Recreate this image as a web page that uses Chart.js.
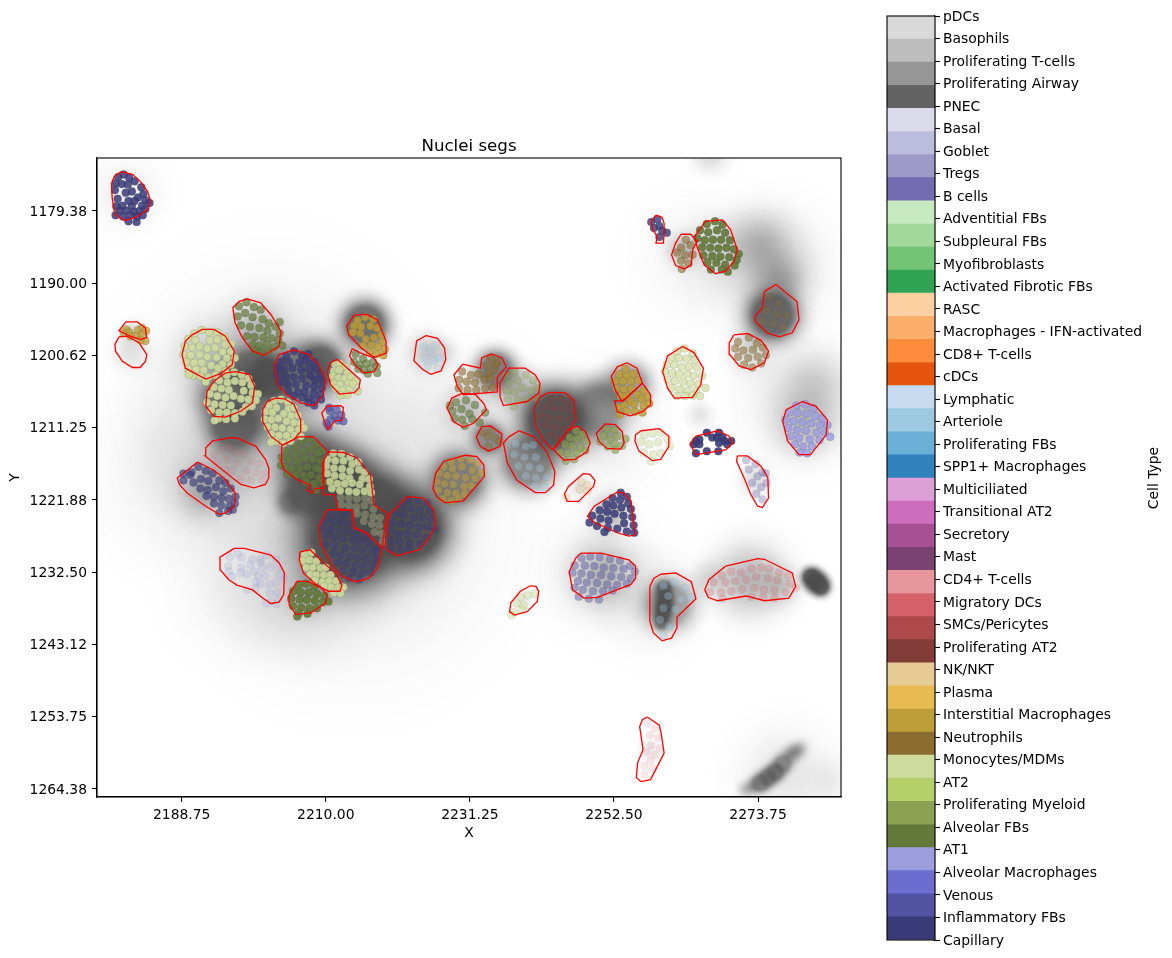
<!DOCTYPE html>
<html>
<head>
<meta charset="utf-8">
<title>Nuclei segs</title>
<script src="https://cdn.jsdelivr.net/npm/chart.js@4/dist/chart.umd.js"></script>
<style>
    body { margin: 0; background: #fff; }
    #main-chart { position: absolute; left: 0; top: 0; }
    #colorbar-chart { position: absolute; left: 880px; top: 0; }
</style>
</head>
<body>
<canvas id="main-chart" width="938" height="842"></canvas>
<canvas id="colorbar-chart" width="292" height="958"></canvas>
<script>
// axes
const xTicks = [2188.75, 2210.00, 2231.25, 2252.50, 2273.75];
const yTicks = [1179.38, 1190.00, 1200.62, 1211.25, 1221.88, 1232.50, 1243.12, 1253.75, 1264.38];
const xRange = [2176.26, 2285.99];
const yRange = [1171.59, 1265.56];

// colorbar, bottom to top
const cellTypes = ['Capillary', 'Inflammatory FBs', 'Venous', 'Alveolar Macrophages', 'AT1', 'Alveolar FBs', 'Proliferating Myeloid', 'AT2', 'Monocytes/MDMs', 'Neutrophils', 'Interstitial Macrophages', 'Plasma', 'NK/NKT', 'Proliferating AT2', 'SMCs/Pericytes', 'Migratory DCs', 'CD4+ T-cells', 'Mast', 'Secretory', 'Transitional AT2', 'Multiciliated', 'SPP1+ Macrophages', 'Proliferating FBs', 'Arteriole', 'Lymphatic', 'cDCs', 'CD8+ T-cells', 'Macrophages - IFN-activated', 'RASC', 'Activated Fibrotic FBs', 'Myofibroblasts', 'Subpleural FBs', 'Adventitial FBs', 'B cells', 'Tregs', 'Goblet', 'Basal', 'PNEC', 'Proliferating Airway', 'Proliferating T-cells', 'Basophils', 'pDCs'];
const typeColors = ['#393b79', '#5254a3', '#6b6ecf', '#9c9ede', '#637939', '#8ca252', '#b5cf6b', '#cedb9c', '#8c6d31', '#bd9e39', '#e7ba52', '#e7cb94', '#843c39', '#ad494a', '#d6616b', '#e7969c', '#7b4173', '#a55194', '#ce6dbd', '#de9ed6', '#3182bd', '#6baed6', '#9ecae1', '#c6dbef', '#e6550d', '#fd8d3c', '#fdae6b', '#fdd0a2', '#31a354', '#74c476', '#a1d99b', '#c7e9c0', '#756bb1', '#9e9ac8', '#bcbddc', '#dadaeb', '#636363', '#969696', '#bdbdbd', '#d9d9d9'];

// all coordinates below are x,y pairs counted from this corner, in axis units
const X0 = 2176, Y0 = 1171;

// tissue signal: x, y, spread, density
const tissueSignal = [
    [25.8,36.2,10.3,.18],[37.6,53.8,11.8,.22],[14,46.5,7.4,.13],[4.4,6,3.2,.1],[22.9,64.1,5.9,.08],[30.2,65.6,5.1,.13],[55.3,39.1,5.9,.1],[74.5,40.6,5.1,.12],[89.2,15.6,5.1,.08],[99.6,17,5.1,.22],[104,36.2,5.1,.16],[106.2,34,3.2,.2],[81.9,65.6,4.4,.1],[74.5,61.2,5.1,.1],[101.8,91.3,4.4,.14],
    [37.6,56.8,4.7,.95],[46.5,55,3.7,.95],[41.3,52.4,3.7,.9],[36.9,50.1,3.2,.85],[31.7,49.4,2.6,.75],[28.8,51.2,1.2,.5],[22.9,32.1,2.4,.75],[25.5,32.9,2.1,.9],[20.6,39.9,2.5,.8],[17.7,36.2,1.8,.4],[33.2,31,2.1,.8],[39.8,25.1,2.2,.8],[24.6,38.4,2.1,.4],
    [99.9,23.7,2.4,.85],[98.1,13.4,3.2,.35],[101,18.5,2.4,.4],[67.8,39.1,3.2,.95],[74,37.6,2.6,.55],[74.5,35,1.5,.3],[58,41.8,1.5,.6],[63.9,45.3,2.6,.65],[59,31.8,1.8,.7],[61.9,34.4,2.2,.35],[54.6,37.6,1.9,.3],[53.5,47.9,2.6,.7],[49.1,29.1,1.9,.3],[51.6,29.1,1.2,.1],
    [105.6,62.2,.9,.9],[106.3,62.9,1,.95],[107,63.6,.9,.9],[83.9,63.9,.8,.7],[84,65.2,.8,.8],[83.9,66.4,.85,.85],[83.7,67.6,.8,.8],[83.5,68.9,.7,.65],[84.5,66.3,2.3,.5],[100.3,90.9,.9,.65],[99.2,91.7,.9,.6],[98.1,92.5,.9,.6],[97,93,.8,.4],[95.9,93.5,.8,.3],[101.4,89.7,.9,.55],[102.5,88.4,.9,.45],[103.2,87.9,.8,.4],[104,87.4,.8,.3],[108.4,92.1,2.2,.08],
    [74.8,61.9,3.2,.36],[96.6,62.6,3.6,.4],[90.7,62.6,1.8,.2],[101,63.4,1.8,.25],[104.7,39.9,2.9,.3],[91.4,13.4,2.6,.15],[86.7,14.1,1.5,.35],[96.3,29.1,2.1,.2],[78.6,34,2.1,.5],[76,41.3,1.2,.3],[76,52.8,1.8,.4],[71.5,49.1,1,.15],[63.1,65.6,1,.1],[97.3,47.9,1.5,.2],[81.9,87.6,1.2,.1],
    [20.6,45.4,3.2,.25],[16.2,49.4,2.6,.4],[5.2,29.1,1.8,.15],[5.6,26.3,1.2,.2],[27.6,39.1,2.6,.35],[16.7,29.6,3.2,.25],[30.2,32.5,2.9,.6],[24,25.9,2.9,.35],[19.9,35.4,2.9,.5],[31.7,45,2.9,.7],[36.1,47.9,3.2,.7],[32.9,61.2,1.8,.2],[31.3,65.1,1.8,.3],[90.7,.1,1.8,.2],[89.2,38.4,1.3,.15]
];

// red segmentation outlines
const segOutlines = [
    [3.8,2.6,5.5,3.0,6.7,4.1,7.7,5.5,8.2,7.0,7.7,8.2,6.0,9.3,4.3,9.8,2.9,8.9,2.5,6.5,2.4,4.4,2.8,3.3],
    [4.5,24.7,6.2,24.7,7.4,25.6,7.6,27.0,6.7,27.3,5.2,26.8,3.5,26.0],
    [3.5,26.9,4.7,26.8,6.5,27.8,7.6,29.5,7.4,30.5,6.6,31.4,5.5,31.4,4.0,30.5,3.0,29.0,2.9,28.0],
    [22.4,21.3,24.4,21.9,25.9,23.6,27.4,26.1,27.1,28.3,24.9,29.6,23.2,29.0,21.7,27.0,20.6,24.8,20.3,22.6,21.2,21.7],
    [15.8,25.8,17.5,25.8,19.2,26.8,20.5,29.0,20.2,31.0,18.5,32.3,16.3,33.1,13.3,31.5,12.8,29.5,13.3,27.5,14.3,26.6],
    [19.2,32.2,20.7,32.0,22.7,32.4,23.5,34.2,23.2,36.6,21.5,37.8,19.2,38.7,17.5,38.6,16.3,37.1,16.5,34.9,17.5,33.4],
    [29.3,28.8,31.5,29.5,33.0,31.0,34.0,33.4,33.5,35.6,32.3,37.0,30.3,36.6,28.3,35.4,26.9,33.9,26.4,31.0,27.1,29.5],
    [35.7,30.2,37.2,31.5,39.1,33.2,38.9,34.4,38.2,35.1,36.0,35.3,34.7,33.9,34.2,32.0,34.7,30.7],
    [38.2,23.7,40.1,23.6,41.6,24.4,42.9,27.5,42.9,29.3,41.1,29.9,39.2,28.5,37.4,26.6,37.1,25.3],
    [37.9,28.6,39.2,29.3,41.1,30.0,41.7,31.0,41.1,32.0,39.7,32.2,38.4,31.2,37.5,29.7],
    [34.2,37.1,36.2,37.0,36.6,37.3,36.4,39.1,35.3,39.3,34.3,40.5,33.8,39.3,33.4,38.1],
    [26.6,35.9,27.9,36.0,29.3,36.8,30.3,39.1,30.3,40.8,29.3,42.0,27.6,42.8,25.9,41.5,24.7,39.3,24.7,37.6,25.4,36.4],
    [20.0,41.7,21.0,41.8,23.7,43.0,25.1,44.9,25.6,46.2,25.6,47.6,25.1,48.6,23.4,49.1,21.5,48.6,20.2,47.6,16.2,44.4,16.3,43.2,17.3,42.2],
    [15.1,45.3,17.3,46.4,19.0,47.65,20.7,49.9,20.5,51.8,19.2,52.8,18.3,53.0,16.3,51.8,13.6,49.9,12.4,48.6,12.1,47.65],
    [27.5,42.9,30.0,41.6,32.2,41.6,34.4,43.8,33.6,45.2,33.7,49.1,32.4,49.2,32.0,49.9,31.2,49.4,31.8,48.7,29.8,47.9,27.8,46.4,27.4,45.0],
    [34.4,43.8,36.6,43.9,38.6,44.7,40.6,47.2,41.1,51.6,43.0,52.8,42.3,58.0,40.1,55.8,38.2,54.9,37.9,52.4,35.8,52.2,35.3,50.1,33.7,50.1,33.6,45.2],
    [34.2,52.3,37.9,52.4,38.2,55.0,40.1,55.8,42.3,58.0,41.6,60.9,40.3,62.4,38.4,62.9,36.4,62.1,34.7,60.2,33.2,57.2,33.0,54.8],
    [43.3,53.1,46.0,50.4,48.4,50.6,49.9,52.3,50.2,54.8,49.0,56.7,47.7,58.2,44.5,59.1,43.0,58.2,42.8,57.2],
    [30.2,58.5,31.7,58.2,33.4,59.9,35.4,61.6,36.4,63.4,36.1,64.3,34.4,64.3,32.7,63.4,30.7,61.6,30.1,59.7],
    [29.8,62.8,31.5,62.9,33.3,63.8,34.2,64.8,34.0,66.0,31.8,67.5,29.6,67.7,28.6,66.3,28.6,64.8],
    [20.5,58.0,22.0,58.0,25.9,59.0,27.1,60.1,27.9,61.6,27.8,64.8,27.1,65.9,25.9,66.1,24.7,65.3,23.2,64.1,20.9,63.4,19.7,62.6,18.4,61.1,18.4,59.3],
    [48.8,26.7,50.5,27.1,51.5,28.5,51.7,30.2,51.0,31.9,49.5,32.4,48.3,31.7,47.0,30.4,47.4,27.5],
    [54.2,30.9,56.8,31.5,57.0,30.0,58.4,29.4,60.0,30.0,60.6,31.3,59.3,32.8,59.3,35.0,54.3,35.4,53.4,34.2,52.9,32.5],
    [61.0,31.5,63.4,31.5,64.9,32.5,65.6,33.7,65.4,35.2,63.7,36.4,60.2,37.0,59.7,35.7,59.7,33.7],
    [54.1,35.2,56.1,35.4,57.3,36.7,57.7,37.6,55.8,39.6,54.3,40.2,52.9,39.4,51.9,37.4,52.6,35.9],
    [57.0,40.1,58.3,40.0,60.0,41.2,59.7,43.0,58.0,43.7,56.8,43.0,56.2,41.6],
    [62.5,40.7,64.7,41.6,66.6,43.8,67.8,46.7,67.6,48.7,66.4,49.8,64.9,49.8,62.2,48.0,60.8,45.5,60.2,42.5,61.0,41.6],
    [51.4,45.2,54.6,44.3,56.3,44.5,57.3,45.7,57.4,47.4,54.3,51.0,51.6,51.3,50.4,50.4,49.8,49.2,50.2,47.0],
    [66.9,35.1,69.3,35.1,70.6,36.2,70.9,39.1,69.8,40.6,67.4,43.5,65.9,41.8,64.9,39.8,64.7,37.4,65.6,35.7],
    [71.1,40.0,72.3,40.8,73.0,42.5,72.5,43.8,70.8,44.9,69.1,45.0,67.6,43.5,69.8,40.6],
    [75.2,39.7,76.7,39.8,77.7,40.8,78.0,42.5,77.5,43.4,75.5,43.3,74.3,42.3,73.9,41.1],
    [78.4,30.7,79.9,31.5,80.7,33.7,77.7,36.4,76.7,34.7,76.1,32.7,77.0,31.3],
    [80.7,33.7,81.9,35.4,81.9,36.9,80.7,37.9,78.9,38.5,77.0,37.9,76.6,36.3,77.9,36.3],
    [80.5,40.7,83.2,40.4,84.6,41.5,84.6,43.0,83.4,44.9,82.2,45.1,80.2,43.7,79.6,42.2,79.7,41.3],
    [72.0,47.0,73.0,47.1,73.7,48.0,73.5,48.9,71.3,51.1,69.6,51.1,69.2,50.0,69.8,48.9],
    [77.0,49.7,78.0,49.9,79.0,51.0,79.6,56.0,78.7,56.2,77.0,55.7,75.5,55.0,73.8,54.3,72.6,53.3,73.6,51.8],
    [71.6,58.7,74.6,58.7,78.7,59.7,79.7,60.6,79.7,62.4,79.0,63.3,74.1,65.2,72.1,65.3,70.4,64.1,69.9,61.4,70.9,59.4],
    [64.2,63.5,65.0,63.6,65.4,64.3,65.2,65.8,63.7,67.3,61.8,67.8,61.1,67.3,61.3,66.0,62.7,64.3],
    [83.4,61.8,85.6,61.6,87.9,62.9,88.6,65.4,85.8,68.1,85.8,69.7,85.0,71.2,83.6,71.6,82.3,70.4,81.8,68.7,81.8,63.6,82.4,62.4],
    [93.0,60.6,97.7,59.5,98.7,59.6,102.8,61.6,103.3,63.6,102.3,65.3,98.7,65.7,96.0,65.0,91.8,65.7,90.4,65.2,89.9,64.1,90.5,62.6],
    [81.4,82.8,83.2,84.0,83.5,85.4,83.9,88.1,81.9,92.0,80.5,92.3,79.8,91.7,80.0,89.5,80.8,87.6,80.3,84.2,80.7,83.2],
    [82.7,9.0,83.6,9.3,83.9,10.2,83.9,11.6,83.8,13.1,82.7,13.1,82.9,12.1,82.2,11.1,82.0,9.9],
    [86.4,11.8,87.8,11.8,88.8,12.8,88.1,14.1,87.9,16.3,86.9,16.9,85.6,16.4,85.0,14.8,85.6,13.1],
    [90.0,9.9,92.5,9.7,93.7,11.1,94.7,14.1,94.2,15.8,93.0,17.2,91.5,17.6,89.8,16.3,88.8,13.8,88.4,12.1],
    [98.7,20.2,100.4,19.2,103.5,21.7,103.8,24.4,102.8,26.3,100.9,26.9,99.1,26.3,97.3,24.6,97.3,23.9,98.4,22.6],
    [94.2,26.6,96.2,26.4,98.2,27.4,99.3,29.0,98.7,30.7,96.7,31.7,95.0,31.2,93.6,29.5,93.5,27.8],
    [86.6,28.3,88.3,29.2,89.7,31.5,89.3,33.9,88.1,35.8,85.4,35.9,84.4,34.4,83.7,32.0,84.4,29.7],
    [104.3,36.4,106.3,37.1,108.0,39.1,107.8,41.3,105.5,44.2,103.8,44.2,102.1,42.2,101.4,39.3,101.9,37.6],
    [88.6,41.5,91.8,40.7,93.5,41.5,94.0,42.5,93.0,43.5,88.6,44.2,87.7,42.7],
    [94.7,44.4,96.2,44.4,98.2,45.9,99.2,47.6,99.3,50.6,98.4,52.0,97.7,51.8,96.7,50.1,95.7,47.65,94.6,45.2]
];

// nuclei per segment
const capillaryTopLeft = [3.4,3.4,4.2,3.0,5.0,3.5,3.0,4.3,3.9,4.4,4.8,4.5,5.8,4.0,2.9,5.3,6.8,4.9,4.5,5.7,5.4,5.5,7.1,5.9,3.3,6.6,6.3,6.4,4.9,6.9,5.8,6.9,7.4,6.8,8.0,7.2,3.1,7.7,4.0,7.6,5.4,7.7,6.9,7.6,3.6,8.3,4.6,8.3,5.7,8.5,6.5,8.4,7.4,8.1,3.0,9.0,4.1,9.2,5.2,9.0,6.2,9.2,7.0,9.0,4.9,9.9,6.1,10.0];
const goldSmall = [4.6,25.8,4.2,26.3,5.0,26.2,6.3,25.9,6.9,25.6,6.1,26.7,6.9,26.6,7.5,26.0,6.7,27.4,7.4,27.5,5.2,26.8];
const greenTop = [21.2,22.4,22.3,21.8,23.4,22.5,24.4,22.9,21.0,23.9,22.1,23.4,23.2,24.0,24.7,24.3,25.6,24.9,21.5,25.2,22.8,25.4,24.2,25.6,25.4,26.0,26.6,25.4,27.2,26.4,22.4,26.8,23.5,26.9,24.8,27.0,26.0,27.1,27.0,27.4,23.2,28.0,24.2,28.2,25.3,28.0,26.4,28.4,24.5,29.1,25.5,29.1,23.6,29.0,27.6,28.2,27.2,24.7];
const paleLeft = [14.6,26.4,15.7,25.9,16.8,26.2,18.0,26.2,19.1,26.9,13.7,27.2,14.8,27.4,16.9,27.4,18.0,27.3,19.2,28.0,20.1,27.9,13.2,28.3,14.3,28.5,15.4,28.3,16.5,28.6,17.7,28.5,18.8,29.1,20.0,29.0,13.0,29.5,14.1,29.6,15.4,29.5,16.5,29.8,17.9,29.9,19.4,30.0,20.6,30.0,13.4,30.6,14.6,30.7,15.7,30.7,18.8,30.9,20.0,31.0,13.7,31.6,14.9,31.7,16.0,31.8,17.1,31.1,18.1,31.5,19.2,31.9,14.4,32.6,15.5,32.7,16.7,32.8,17.7,32.5,13.8,32.4,16.3,33.5];
const paleLower = [19.4,32.5,20.5,32.1,21.6,32.5,22.6,33.0,18.3,33.3,19.5,33.6,20.6,33.4,21.7,33.6,23.0,34.0,17.5,34.3,18.6,34.5,19.7,34.7,21.9,34.8,23.2,35.1,24.0,35.3,16.9,35.3,18.0,35.6,19.2,35.8,20.4,35.6,21.5,36.0,22.6,36.1,23.7,36.2,16.5,36.5,17.6,36.8,18.8,36.9,20.0,37.0,22.2,37.2,23.1,37.1,17.1,37.7,18.3,38.0,19.4,38.0,20.6,38.1,21.7,37.9,18.2,38.9,19.3,39.0,20.6,38.9,17.6,39.2];
const capillaryMiddle = [28.2,29.7,29.3,29.0,30.5,29.6,31.4,29.4,27.5,30.5,28.6,30.6,30.1,30.7,31.1,30.4,32.3,30.6,26.9,31.4,27.9,31.7,29.1,31.5,30.4,31.8,31.6,31.5,32.6,31.6,33.2,32.4,26.8,32.5,28.1,32.8,29.3,32.8,30.5,33.0,31.7,32.6,32.4,33.2,33.5,33.3,27.2,33.6,28.4,33.9,29.6,33.9,31.1,34.0,32.3,34.2,33.4,34.4,28.5,34.9,29.9,35.0,30.9,35.0,32.2,35.2,33.2,35.4,29.3,35.6,30.5,35.8,31.5,36.0,32.4,36.2,33.3,36.1,32.3,37.0,31.4,36.6];
const paleSmall = [35.4,31.0,36.1,30.8,36.9,31.3,35.2,31.9,36.0,31.8,37.2,32.2,35.0,32.7,35.9,32.9,36.8,33.0,37.7,32.8,38.4,33.4,35.2,33.7,36.1,33.9,37.4,33.7,35.5,34.5,36.5,34.8,37.5,34.5,38.7,34.9,36.2,35.5,37.2,35.4,38.0,33.8];
const goldTop = [38.7,24.5,39.8,24.0,41.0,24.3,38.2,25.3,39.2,25.4,40.6,25.3,38.0,26.2,39.1,26.4,41.6,25.6,42.2,26.6,39.9,27.2,41.1,27.0,42.3,27.7,39.5,28.2,40.7,28.1,41.7,28.4,42.7,28.7,40.5,29.1,41.5,29.4,42.5,29.6];
const greenSmall = [38.4,29.4,39.5,30.1,38.2,30.6,39.0,31.0,40.0,30.8,41.0,30.6,39.6,31.8,40.6,31.6,41.5,31.2,38.8,31.6,40.2,32.3,41.6,32.2];
const capillaryTiny = [34.6,37.8,35.6,37.6,36.3,38.4,35.3,38.6,34.7,39.0,35.8,39.2,34.4,40.1,36.6,39.3,34.5,37.3,34.1,39.6];
const paleRound = [26.4,36.3,27.4,36.1,28.4,36.5,25.6,37.0,26.7,37.3,28.5,37.5,29.3,37.3,25.1,37.9,26.1,38.0,28.9,38.5,27.8,38.2,29.9,38.4,25.0,39.0,26.0,39.1,27.0,38.9,28.2,39.3,29.3,39.5,30.3,39.6,25.4,40.1,26.5,40.2,27.6,40.3,28.8,40.5,30.0,40.6,30.8,40.3,26.0,41.2,27.1,41.4,28.2,41.4,29.4,41.4,30.3,41.5,26.6,42.2,27.7,42.5,28.8,42.2,25.9,42.4];
const faintRedLeft = [17.5,44.2,18.6,43.5,19.8,43.2,20.8,43.9,22.0,44.0,18.0,45.3,19.4,44.9,21.0,45.4,23.0,45.2,24.2,45.6,19.2,46.4,20.2,46.6,22.3,46.6,23.8,46.9,21.5,47.8,23.0,48.0,24.6,48.0,25.0,47.0];
const capillaryLeft = [13.0,48.0,14.0,47.2,15.2,46.0,16.3,46.6,17.3,47.0,14.5,48.3,15.6,47.8,16.7,48.1,18.3,48.0,19.2,48.4,15.5,49.2,16.6,49.4,17.8,49.0,18.9,49.6,20.0,49.2,16.4,50.3,17.5,50.4,18.6,50.6,19.7,50.7,20.7,50.4,17.5,51.4,18.6,51.7,19.8,51.8,20.6,51.4,18.3,52.8,19.6,52.5,20.3,52.3,14.2,46.8,13.0,47.0];
const greenCentre = [29.4,43.0,30.5,42.4,31.6,42.0,32.5,42.7,33.4,43.6,28.3,43.7,29.6,44.1,30.7,43.6,31.8,43.5,32.8,44.0,27.5,44.6,28.5,44.9,29.8,45.2,30.9,44.7,32.1,44.9,33.2,45.2,28.0,46.0,29.0,46.2,30.2,46.3,31.3,46.0,32.5,46.2,33.1,46.4,29.6,47.2,30.7,47.3,31.8,47.2,33.0,47.6,31.1,48.2,32.3,48.5,33.5,48.3,32.6,49.4,28.3,47.1,27.4,45.8];
const paleCentre = [35.1,44.0,36.3,44.1,37.6,44.6,34.3,44.9,35.4,45.1,36.6,45.1,37.9,45.6,38.8,45.3,34.1,45.9,35.2,46.2,36.4,46.3,37.6,46.6,38.9,46.4,39.7,46.8,34.2,47.0,35.3,47.3,36.5,47.4,37.5,47.7,39.4,47.8,40.4,47.8,34.6,48.2,35.7,48.5,36.8,48.5,37.9,48.4,39.0,48.6,40.5,48.9,34.9,49.2,36.1,49.5,37.4,49.6,38.5,49.7,39.7,49.6,40.7,49.8];
const paleCentreDim = [36.2,50.5,37.4,50.6,38.6,50.7,39.8,50.6,40.7,51.0,36.3,51.6,37.4,51.7,38.5,51.9,39.7,51.7,41.0,52.2,38.6,52.9,39.8,53.0,41.0,53.4,42.0,53.5,39.6,54.0,40.8,54.4,41.9,54.6,41.2,55.6,42.2,55.8,42.4,57.0];
const capillaryBig = [34.7,53.0,36.0,53.1,37.1,53.0,34.0,54.0,35.2,54.1,36.4,54.2,37.6,54.3,33.5,55.0,34.7,55.2,36.1,55.4,37.3,55.5,38.6,55.8,39.8,56.3,34.0,56.1,35.2,56.4,36.5,56.6,37.9,56.7,39.0,57.0,40.4,57.2,41.6,58.0,34.1,57.4,35.4,57.6,36.8,57.9,38.2,58.0,39.5,58.2,40.9,58.5,35.1,58.7,36.2,59.0,37.6,59.2,38.8,59.4,40.0,59.5,41.4,59.4,35.8,60.1,37.1,60.2,38.4,60.5,39.6,60.6,40.9,60.4,36.6,61.3,38.0,61.5,39.4,61.7,40.6,61.5,37.5,62.4,38.9,62.6];
const capillaryRight = [46.2,50.9,47.6,51.0,48.9,51.3,45.2,51.8,46.6,52.1,47.9,52.3,49.3,52.5,44.4,52.9,45.5,53.1,47.0,53.5,48.3,53.5,49.6,53.7,43.8,54.2,45.1,54.4,46.4,54.6,47.8,54.8,49.0,54.8,50.1,55.2,43.5,55.4,44.7,55.9,46.0,55.9,47.4,56.0,48.9,56.4,43.5,56.8,44.9,57.0,46.4,57.2,47.9,57.3,43.6,58.0,45.0,58.2,46.3,58.1];
const paleBottom = [30.9,58.9,31.9,58.6,30.6,59.8,31.6,59.7,32.6,59.9,31.1,60.8,32.1,60.8,33.2,60.9,34.0,60.8,31.7,61.8,32.6,61.9,33.7,61.9,34.7,61.9,32.4,62.7,33.5,62.9,34.5,62.8,35.5,62.8,33.8,63.6,34.8,63.7,35.8,63.8,36.6,63.7,35.2,64.5,36.2,64.6];
const greenBottom = [30.0,63.5,31.1,63.2,32.3,63.6,29.2,64.3,30.3,64.5,31.5,64.5,32.7,64.7,33.8,65.0,28.9,65.4,30.1,65.5,31.2,65.6,32.4,65.7,33.6,65.9,34.4,65.8,29.2,66.5,30.4,66.7,31.6,66.8,32.7,66.8,30.0,67.5,31.3,67.6,29.8,68.0];
const faintBlueLeft = [19.8,59.3,21.0,58.8,21.6,59.3,23.2,59.6,24.4,59.6,25.3,59.0,26.7,59.6,19.6,60.6,21.5,60.8,22.9,60.4,24.4,60.1,24.6,60.8,25.8,60.7,27.0,60.9,19.7,61.4,20.2,62.1,21.4,61.6,22.4,61.8,23.5,61.4,24.0,62.0,25.0,62.0,27.2,62.0,23.7,62.9,24.3,63.2,25.6,63.3,26.6,63.1,27.9,62.5,22.4,64.1,23.6,63.9,25.8,64.6,26.8,64.4,27.0,65.4,25.9,65.8,25.2,66.1,26.7,66.2];
const faintSkyTop = [48.5,28.3,49.4,29.0,50.2,28.2,48.6,30.0,49.9,30.4,50.8,30.0,49.0,31.3,50.5,31.6];
const brownMiddle = [58.3,30.0,59.3,30.6,57.8,31.1,58.9,31.8,57.9,32.3,54.1,32.0,55.4,32.5,56.5,32.4,57.4,33.2,58.3,33.0,53.7,33.2,54.8,33.5,56.0,33.6,53.6,34.4,54.9,34.7,56.2,34.7,57.5,34.5,58.6,34.3,59.0,31.0];
const greenPaleMiddle = [60.6,32.6,61.8,32.1,61.0,33.7,62.3,33.3,63.6,32.5,64.6,33.3,60.7,34.8,61.8,35.0,63.0,34.4,64.3,34.8,65.3,34.4,60.9,36.1,62.3,36.2,63.6,36.1,65.0,35.8,61.7,37.1];
const greenMiddle = [53.2,36.5,54.7,36.2,56.0,36.9,52.7,37.8,54.0,37.5,55.2,38.2,57.5,38.0,53.0,38.9,54.1,39.1,55.6,39.0,54.5,40.0,56.7,39.5,52.3,37.0];
const brownTiny = [57.2,41.0,58.4,40.7,57.9,41.6,59.0,41.8,58.0,43.0,59.6,42.3];
const skyMiddle = [62,42.6,63.5,43,64.6,42.8,61.8,44.2,63.3,44.6,65,44.6,62.4,45.9,64,46,65.6,46.2,63.5,47.3,65,47.6,66.6,47.5,64.8,48.8,66.3,49];
const goldLarge = [52.5,45.3,53.9,44.9,55.3,45.0,56.4,45.5,51.4,46.0,52.7,46.3,54.1,46.0,55.6,46.5,56.9,46.9,50.7,47.0,51.9,47.3,53.2,47.4,54.6,47.6,56.0,47.7,50.4,48.2,51.5,48.5,52.8,48.6,54.4,48.9,55.5,48.8,50.6,49.4,51.9,49.8,53.2,49.9,54.5,50.0,51.3,50.7,52.5,51.0,53.6,50.7];
const darkRed = [67.2,36.1,68.6,36.0,69.8,36.6,66.2,37.2,67.6,37.4,69.0,37.5,70.3,37.7,65.8,38.5,67.1,38.8,68.5,38.9,69.8,39.1,66.4,39.9,67.8,40.2,69.1,40.4,67.0,41.3,68.0,41.6];
const greenNextRed = [70.9,40.7,71.8,41.3,70.0,41.7,71.0,41.9,72.3,42.2,69.3,42.7,70.4,42.9,71.6,43.2,68.6,43.9,69.7,44.0,71.0,44.0,72.3,43.6,69.4,45.1,70.6,44.9];
const greenRound = [75.5,40.5,76.6,40.6,75.0,41.4,75.9,41.9,77.0,41.5,78.2,41.9,74.5,42.3,75.6,43.0,76.6,42.6,77.7,42.9,76.7,43.5];
const goldUpper = [78.2,31.6,77.3,32.4,78.4,32.6,79.4,32.3,76.7,33.4,77.8,33.4,79.0,33.4,80.1,33.3,76.9,34.5,78.0,34.6,79.1,34.5,77.5,35.6,78.4,35.6];
const goldLower = [80.9,34.8,81.4,35.8,79.9,35.4,80.5,36.0,79.0,36.4,78.0,36.9,79.5,36.8,80.9,37.0,81.7,36.7,77.1,37.3,78.4,37.8,79.6,37.9,80.7,38.0,77.4,38.3];
const paleFaint = [81,41.3,82.2,41.1,83.4,41.0,84.4,41.9,80.5,42.3,81.7,42.7,83,42.4,84.7,43,80.9,43.9,82.3,44.2,83.4,44,82,45.2];
const sandTiny = [71.7,48.2,72.6,48.7,71.5,49.3,72.6,49.6,69.5,50.4];
const capillaryMidRight = [77.5,49.8,78.4,50.4,76.3,50.6,77.4,50.9,78.6,51.4,75.4,51.5,76.4,51.7,77.6,52.0,79.0,52.2,74.4,52.4,75.5,52.6,76.6,52.9,77.9,53.2,79.2,53.4,73.3,53.2,74.5,53.6,75.7,53.9,78.0,54.3,79.4,54.6,72.9,54.2,74.0,54.7,75.6,55.0,77.0,55.1,78.4,55.5,79.5,55.7,75.1,55.6];
const blueMidRight = [71.7,59.4,73.0,59.2,74.4,59.3,75.9,59.6,77.4,59.8,78.9,60.6,70.7,60.5,72.2,60.5,73.6,60.6,75.0,60.8,76.4,60.9,77.9,61.0,79.6,61.4,70.4,61.6,71.7,61.7,73.1,61.9,74.6,61.9,76.1,62.1,77.6,62.2,79.0,62.4,71.2,62.8,72.5,63.0,74.0,63.1,75.5,63.3,77.0,63.4,78.4,63.2,70.7,63.8,71.9,64.1,73.4,64.3,74.9,64.3,76.3,64.2,71.3,65.1,72.8,65.4,74.3,65.5];
const paleLowerFaint = [62.8,65.2,63.8,64.9,64.8,64.7,62.2,66.1,63.2,66.4,61.8,67.4,63,67,61.4,67.8];
const skyLower = [83.8,63.5,85.4,63,87,63.8,84.5,65,86.4,65.5,87.8,65.2,83.8,66.8,85.6,67,83.3,68.5,84.6,69.5,83.8,70.8];
const redWide = [92.4,62.0,93.8,61.4,95.2,61.6,96.8,61.0,98.2,60.8,99.4,61.0,100.9,61.5,102.2,62.0,91.2,63.0,92.9,63.0,94.4,62.8,96.0,62.6,97.5,62.2,99.2,62.4,100.6,62.7,102.4,63.2,90.7,64.4,92.3,64.5,93.8,64.3,95.4,64.0,97.2,63.8,98.6,64.1,100.2,64.2,101.8,64.4,103.3,63.8,92.5,65.4,96.8,65.1,98.5,65.2,100.2,65.3];
const redBottom = [81.4,83.8,82.6,84.5,81.8,85.4,83,85.8,82,87,83.3,87.4,81.3,88,82.6,88.4,81.9,89.2,81,90,82.2,90.4,81,91.2];
const capillaryHook = [82.9,9.6,83.2,10.6,82.4,10.9,83.6,11.3,83.2,12.2,84.3,11.6,82.0,10.0];
const brownTopRight = [87.1,12.6,86.4,13.8,87.8,13.4,85.8,14.5,87,14.9,88.1,14.8,86.4,15.7,87.5,16.1,86.5,16.9];
const greenTopRight = [90.2,10.3,91.4,9.9,92.5,10.4,89.2,11.2,90.4,11.5,91.7,11.2,92.9,11.6,88.8,12.4,89.9,12.7,91.1,12.6,92.3,12.6,93.6,12.7,89.5,13.7,90.7,13.8,91.9,13.9,93.1,13.8,94.2,14.0,94.9,14.7,89.7,14.9,91.0,15.0,92.2,15.1,93.5,15.2,94.6,15.6,90.3,15.9,91.6,16.0,92.9,16.3,94.3,16.4,90.8,17.0,92.4,17.0,93.3,17.3];
const brownDark = [99.5,21,100.8,22,99,23,100.5,23.6,102,23.8,98.4,24.6,100,25,101.4,25.4];
const brownPale = [94.8,27.6,96.4,27.0,97.6,27.8,94.4,28.6,95.6,28.9,97,28.8,98.5,28.5,94.8,29.8,96.3,30,97.7,29.8,98.9,29.6,95.7,31,96.9,31.4,98.2,30.8];
const paleRight = [85.8,29.0,86.9,28.6,88.1,29.3,85,29.9,86.1,30.0,87.2,30.1,88.4,30.3,84.3,31,85.4,31,86.5,31.3,87.6,31.3,88.8,31.4,84.0,32.0,85.1,32.2,86.1,32.4,87.3,32.4,88.3,32.6,89.5,32.6,84.4,33.2,85.5,33.4,86.7,33.5,87.8,33.7,89,33.8,85,34.4,86.2,34.6,87.3,34.8,88.6,34.8,90,34.4,85.8,35.6,87,35.6,88.1,35.5,89.2,35.6];
const blueRight = [103.4,37.0,104.7,36.8,105.9,37.4,102.4,38.0,103.6,38.1,104.9,38.2,106.2,38.5,107.2,38.9,101.8,39.1,103.0,39.3,104.3,39.4,105.6,39.6,106.9,39.9,108.0,39.9,102.2,40.3,103.5,40.6,104.8,40.7,106.4,41.0,107.6,41.0,102.6,41.5,103.8,41.8,105.4,42.0,106.8,42.1,103.2,42.7,104.4,43.0,105.7,43.0,103.9,43.9,105.0,44.0,108.4,41.6];
const capillarySparse = [88.6,42.2,89.1,42,88.3,42.7,89.1,42.7,91,41.7,92,41,92.8,42.2,92,42.5,93.2,42.7,93.8,42.2,90.2,41,90.2,43.7,91.9,43.7,88.6,44,91.7,41.7,92.5,41.7];
const blueFaintRight = [96,45,97.4,45.6,98.4,46.8,96.4,46.4,97.7,47.4,98.9,47,96.9,48.4,98.2,49,99,48.4,97.5,50,98.4,50.8];

// points, colour index, opacity
const nucleiSets = [
    [capillaryTopLeft, 0, .85], [goldSmall, 9, .75], [greenTop, 4, .7], [paleLeft, 7, .9], [paleLower, 7, .9],
    [capillaryMiddle, 0, .75], [paleSmall, 7, .9], [goldTop, 9, .8], [greenSmall, 4, .65], [capillaryTiny, 1, .7],
    [paleRound, 7, .9], [faintRedLeft, 14, .15], [capillaryLeft, 0, .65], [greenCentre, 4, .75], [paleCentre, 7, .85],
    [paleCentreDim, 7, .3], [capillaryBig, 0, .5], [capillaryRight, 0, .5], [paleBottom, 7, .9], [greenBottom, 4, .9],
    [faintBlueLeft, 3, .22], [faintSkyTop, 22, .3], [brownMiddle, 8, .6], [greenPaleMiddle, 5, .4], [greenMiddle, 4, .6],
    [brownTiny, 8, .45], [skyMiddle, 22, .35], [goldLarge, 9, .55], [darkRed, 12, .4], [greenNextRed, 5, .65],
    [greenRound, 5, .65], [goldUpper, 9, .85], [goldLower, 9, .85], [paleFaint, 7, .45], [sandTiny, 11, .4],
    [capillaryMidRight, 0, .85], [blueMidRight, 1, .45], [paleLowerFaint, 7, .45], [skyLower, 22, .35], [redWide, 14, .25],
    [redBottom, 14, .15], [capillaryHook, 0, .8], [brownTopRight, 8, .6], [greenTopRight, 4, .9], [brownDark, 8, .3],
    [brownPale, 8, .55], [paleRight, 7, .7], [blueRight, 3, .85], [capillarySparse, 0, .9], [blueFaintRight, 1, .3]
];

Chart.defaults.font.family = '"DejaVu Sans"';
Chart.defaults.font.size = 13.9;
Chart.defaults.color = '#000';
Chart.defaults.animation = false;

const toPoints = (flat) => {
    const pts = [];
    for (let i = 0; i < flat.length; i += 2) {
        pts.push({ x: X0 + flat[i], y: Y0 + flat[i + 1] });
    }
    return pts;
};

const withAlpha = (hex, a) => {
    const n = parseInt(hex.slice(1), 16);
    return `rgba(${n >> 16},${(n >> 8) & 255},${n & 255},${a})`;
};

// soft round sprite, so the signal reads as a blurred image
// dense spots flatten out at the top like the saturated parts of the image
const spriteCache = {};
const signalSprite = (radius, density) => {
    const key = `${radius}_${density}`;
    if (spriteCache[key]) return spriteCache[key];
    const c = document.createElement('canvas');
    c.width = c.height = radius * 2;
    const g = c.getContext('2d');
    const grad = g.createRadialGradient(radius, radius, 0, radius, radius, radius);
    const boost = density >= 0.5 ? 2 : 1;
    for (let i = 0; i <= 16; i++) {
        const t = i / 16;
        const a = Math.min(density, boost * density * Math.exp(-4.5 * t * t)) * (1 - t * t * t * t);
        grad.addColorStop(t, `rgba(78,78,78,${a})`);
    }
    g.fillStyle = grad;
    g.fillRect(0, 0, c.width, c.height);
    spriteCache[key] = c;
    return c;
};

const framePlugin = {
    id: 'frame',
    afterDatasetsDraw(chart) {
        const { ctx, chartArea: a } = chart;
        ctx.save();
        ctx.strokeStyle = '#000';
        ctx.lineWidth = 1.1;
        ctx.strokeRect(a.left, a.top, a.right - a.left, a.bottom - a.top);
        ctx.restore();
    }
};

const outlineDatasets = segOutlines.map((flat) => ({
    data: toPoints(flat.concat(flat.slice(0, 2))),
    showLine: true,
    borderColor: '#ff0000',
    borderWidth: 1.3,
    pointRadius: 0,
    tension: 0
}));

const nucleiDatasets = nucleiSets.map(([flat, colorIdx, alpha]) => ({
    data: toPoints(flat),
    showLine: false,
    pointRadius: 4,
    pointBackgroundColor: withAlpha(typeColors[colorIdx], alpha),
    pointBorderColor: `rgba(60,60,60,${alpha * 0.3})`,
    pointBorderWidth: 0.6
}));

// 744 is the plot width the layout below gives
const unitPx = 744 / (xRange[1] - xRange[0]);

const signalDataset = {
    data: tissueSignal.map(([x, y, spread, density]) => ({ x: X0 + x, y: Y0 + y, spread, density })),
    showLine: false,
    pointRadius: 5,
    pointStyle: (c) => {
        if (!c.raw) return 'circle';
        return signalSprite(Math.max(2, Math.round(c.raw.spread * unitPx * 3)), c.raw.density);
    }
};

new Chart(document.getElementById('main-chart'), {
    type: 'scatter',
    data: { datasets: [...outlineDatasets, ...nucleiDatasets, signalDataset] },
    plugins: [framePlugin],
    options: {
        responsive: false,
        layout: { padding: { left: 0, right: 97, top: 0, bottom: 0 } },
        plugins: {
            legend: { display: false },
            tooltip: { enabled: false },
            title: { display: true, fullSize: false, text: 'Nuclei segs', font: { size: 16.67, weight: 'normal' }, color: '#000', padding: { top: 137, bottom: 1 } }
        },
        scales: {
            x: {
                type: 'linear',
                min: xRange[0],
                max: xRange[1],
                afterFit: (s) => { s.height = 45; },
                afterBuildTicks: (s) => { s.ticks = xTicks.map((value) => ({ value })); },
                ticks: { callback: (v) => v.toFixed(2), padding: 5, maxRotation: 0, autoSkip: false },
                grid: { drawOnChartArea: false, tickLength: 5, tickWidth: 1.1, tickColor: '#000' },
                border: { color: '#000', width: 1.1 },
                title: { display: true, text: 'X', color: '#000', padding: { top: 0, bottom: 0 } }
            },
            y: {
                type: 'linear',
                reverse: true,
                min: yRange[0],
                max: yRange[1],
                afterFit: (s) => { s.width = 97; },
                afterBuildTicks: (s) => { s.ticks = yTicks.map((value) => ({ value })); },
                ticks: { callback: (v) => v.toFixed(2), padding: 5, autoSkip: false, labelOffset: 1 },
                grid: { drawOnChartArea: false, tickLength: 5, tickWidth: 1.1, tickColor: '#000' },
                border: { color: '#000', width: 1.1 },
                title: { display: true, text: 'Y', color: '#000', padding: { top: 7, bottom: 7 } }
            }
        }
    }
});

// colorbar, reads bottom to top
const colorbarTitle = {
    id: 'colorbarTitle',
    afterDraw(chart) {
        const { ctx } = chart;
        ctx.save();
        ctx.translate(274, 478);
        ctx.rotate(-Math.PI / 2);
        ctx.textAlign = 'center';
        ctx.textBaseline = 'middle';
        ctx.fillStyle = '#000';
        ctx.font = '13.9px "DejaVu Sans"';
        ctx.fillText('Cell Type', 0, 0);
        ctx.restore();
    }
};

new Chart(document.getElementById('colorbar-chart'), {
    type: 'bar',
    data: {
        labels: [''],
        datasets: typeColors.map((color) => ({ data: [1], backgroundColor: color, categoryPercentage: 1, barPercentage: 1 }))
    },
    plugins: [framePlugin, colorbarTitle],
    options: {
        responsive: false,
        layout: { padding: { left: 7, top: 16, bottom: 18, right: 0 } },
        plugins: { legend: { display: false }, tooltip: { enabled: false } },
        scales: {
            x: { display: false, stacked: true },
            y: {
                stacked: true,
                position: 'right',
                min: 0,
                max: typeColors.length,
                afterFit: (s) => { s.width = 237; },
                afterBuildTicks: (s) => {
                    s.ticks = cellTypes.map((_, i) => ({ value: i * typeColors.length / (cellTypes.length - 1) }));
                },
                ticks: { callback: (v, i) => cellTypes[i], padding: 3, autoSkip: false, labelOffset: 1 },
                grid: { drawOnChartArea: false, tickLength: 5, tickWidth: 1.1, tickColor: '#000' },
                border: { color: '#000', width: 1.1 }
            }
        }
    }
});
</script>
</body>
</html>
